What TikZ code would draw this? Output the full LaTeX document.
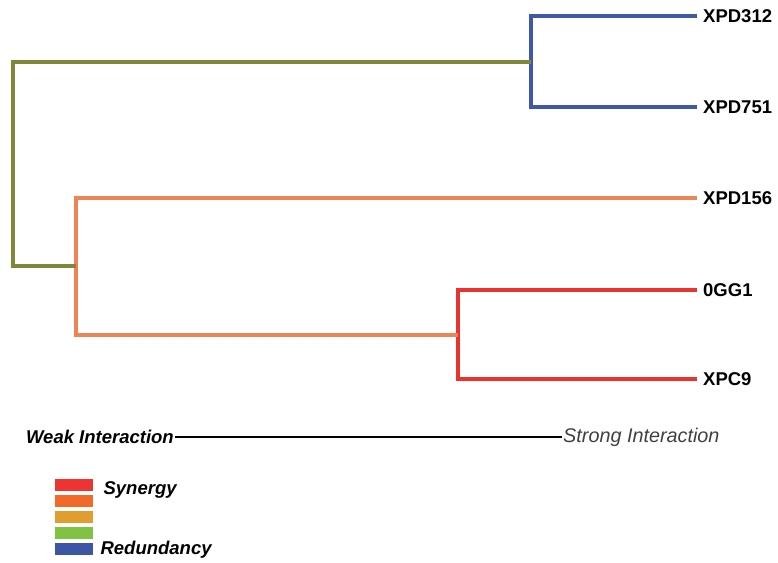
\documentclass[tikz,border=0pt]{standalone}
\usepackage{fontspec}
\setmainfont{Liberation Sans}
\usepackage{tikz}
\usetikzlibrary{positioning,calc}
\definecolor{clblue}{HTML}{4058A8}
\definecolor{clolive}{HTML}{7E8838}
\definecolor{clorange}{HTML}{EE8452}
\definecolor{clred}{HTML}{E8332E}
\definecolor{lgred}{HTML}{EE3333}
\definecolor{lgorange}{HTML}{F26A2A}
\definecolor{lggold}{HTML}{E09E30}
\definecolor{lggreen}{HTML}{82C242}
\definecolor{lgblue}{HTML}{3A56A5}
\tikzset{
    branch/.style={line width=4pt},
    leaf/.style={anchor=west,inner xsep=6pt,inner ysep=0pt,font=\fontsize{18.5}{22}\selectfont\bfseries},
    axislabel/.style={inner sep=1pt,font=\fontsize{18.5}{22}\selectfont\bfseries\itshape},
    swatch/.style={minimum width=38pt,minimum height=12pt,inner sep=0pt,anchor=north west}
}
\begin{document}
\begin{tikzpicture}[x=1pt,y=-1pt]
        \useasboundingbox (0,0) rectangle (778,562);
        \foreach \n/\y/\t in {A/16/XPD312, B/107/XPD751, C/198/XPD156, D/290/0GG1, E/379/XPC9}
            {
                \node[leaf] (\n) at (697,\y) {\t};
            }
        \coordinate (jblue) at (531,62);
        \coordinate (jred) at (458,334.5);
        \coordinate (jorange) at (76,266);
        \coordinate (root) at (13,164);

        \draw[branch,clblue] (A.west) -| (jblue) |- (B.west);
        \draw[branch,clred] (D.west) -| (jred) |- (E.west);
        \draw[branch,clorange] (C.west) -| (jorange) |- (jred);
        \draw[branch,clolive] (jblue) -| (root) |- (jorange);

        \node[axislabel,anchor=east] (weak) at (175,437) {Weak Interaction};
        \node[axislabel,anchor=west,text=black!75,font=\fontsize{19.8}{22}\selectfont\itshape] (strong) at (562,437) {Strong Interaction};
        \draw[line width=2.6pt] (weak) -- (strong);

        \foreach \c [count=\i] in {lgred,lgorange,lggold,lggreen,lgblue}
            {
                \node[swatch,fill=\c] (S\i) at (55,{479+(\i-1)*16}) {};
            }
        \node[axislabel,anchor=west] (syn) at ([xshift=9pt,yshift=-5pt]S1.east) {Synergy};
        \node[axislabel,anchor=west] (red) at ([xshift=6pt,yshift=-1pt]S5.east) {Redundancy};
    \end{tikzpicture}
\end{document}
